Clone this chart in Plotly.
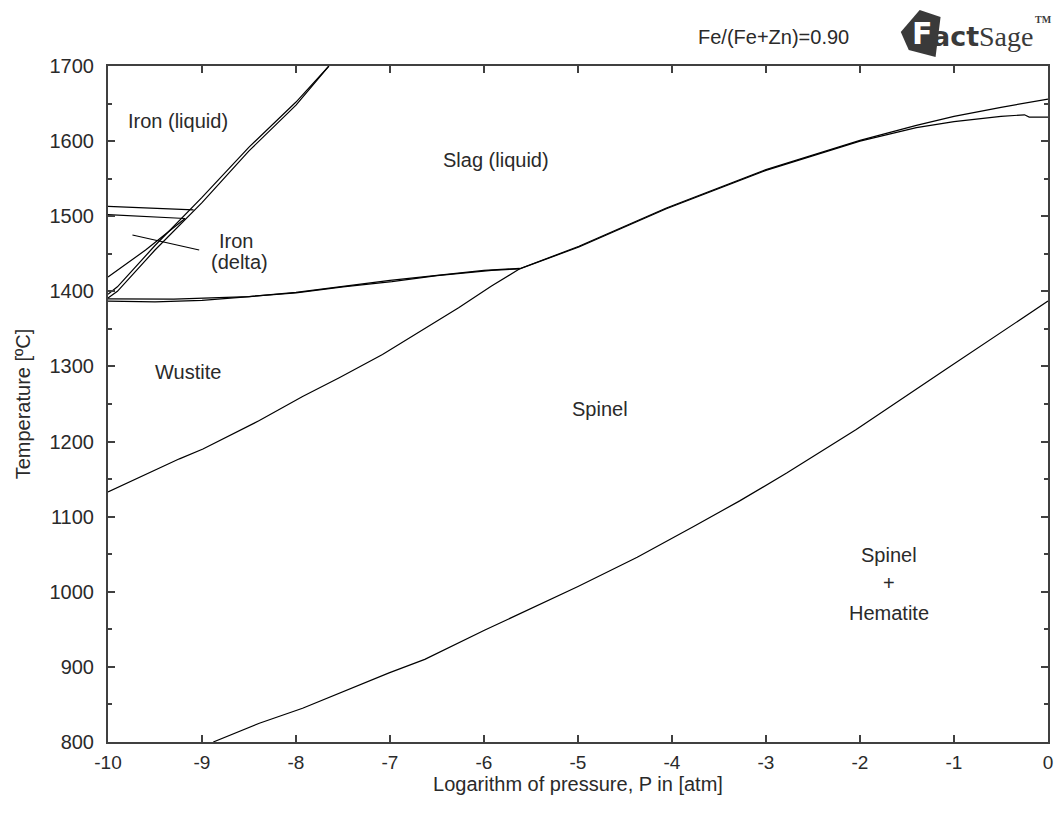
import plotly.graph_objects as go

# ---------------- data (log10 P [atm], T [C]) ----------------
# Spinel / Spinel+Hematite boundary
sh_x = [-8.88, -8.39, -7.93, -7.01, -6.63, -5.99, -5.0, -4.37, -3.77, -3.28, -2.78, -2.04, -1.09, 0.0]
sh_t = [800, 825, 845, 892, 910, 949, 1007, 1046, 1087, 1121, 1158, 1216, 1296, 1387]

# Wustite/Spinel boundary continuing as Slag/Spinel (upper branch)
ws_x = [-10.0, -9.24, -8.99, -8.39, -7.93, -7.54, -7.08, -6.70, -6.27, -5.92, -5.62, -4.99, -4.06, -3.0, -2.0, -1.4, -1.0, -0.5, 0.0]
ws_t = [1133, 1177, 1190, 1228, 1260, 1285, 1316, 1345, 1378, 1407, 1430, 1460, 1511, 1562, 1601, 1621, 1633, 1645, 1656]

# Wustite/Slag boundary continuing as Slag/Spinel (lower branch)
wl_x = [-10.0, -9.5, -9.0, -8.39, -8.0, -7.5, -6.98, -6.5, -5.92, -5.62, -4.99, -4.06, -3.0, -2.0, -1.4, -1.0, -0.5, -0.25, -0.2, 0.0]
wl_t = [1387, 1386, 1388, 1394, 1398, 1406, 1413, 1421, 1428, 1430, 1459, 1510, 1561, 1600, 1618, 1626, 1633, 1635, 1632, 1632]

# second Wustite/Slag line (double line)
wl2_x = [-10.0, -9.3, -8.5, -8.0, -7.0, -6.0, -5.62]
wl2_t = [1390, 1389.5, 1393, 1398.5, 1414.5, 1428, 1430.5]

# Iron (liquid) boundaries
l1_x = [-10.0, -9.9, -9.5, -9.0, -8.5, -8.0, -7.65]
l1_t = [1396, 1406, 1461, 1525, 1592, 1652, 1700]
l2_x = [-10.0, -9.9, -9.5, -9.0, -8.5, -8.0, -7.65]
l2_t = [1391, 1400, 1455, 1518, 1587, 1648, 1700]

# Iron (delta) boundaries
h1_x = [-10.0, -9.09]
h1_t = [1513, 1508.5]
h2_x = [-10.0, -9.18]
h2_t = [1502, 1497]
d1_x = [-10.0, -9.6, -9.18]
d1_t = [1419, 1455, 1497]

# label pointer for "Iron (delta)"
ptr_x = [-9.74, -9.03]
ptr_t = [1475, 1455]

x_tick_vals = [-10, -9, -8, -7, -6, -5, -4, -3, -2, -1, 0]
x_tick_text = ["-10", "-9", "-8", "-7", "-6", "-5", "-4", "-3", "-2", "-1", "0"]
y_tick_vals = [800, 900, 1000, 1100, 1200, 1300, 1400, 1500, 1600, 1700]
y_tick_text = ["800", "900", "1000", "1100", "1200", "1300", "1400", "1500", "1600", "1700"]

# ---------------- figure ----------------
W, H = 1059, 814
ML, MR, MT, MB = 108, 6, 66, 72
FONT = "Liberation Sans, Arial, sans-serif"
TXT = "#2a2a2a"
AX = "#404040"

fig = go.Figure()
line_style = dict(color="black", width=1.2)
for xs, ts in [(sh_x, sh_t), (ws_x, ws_t), (wl_x, wl_t), (wl2_x, wl2_t),
               (l1_x, l1_t), (l2_x, l2_t), (h1_x, h1_t), (h2_x, h2_t),
               (d1_x, d1_t), (ptr_x, ptr_t)]:
    fig.add_trace(go.Scatter(x=xs, y=ts, mode="lines", line=line_style,
                             showlegend=False, hoverinfo="skip"))


def px2paper(px, py):
    return (px - ML) / (W - ML - MR), (H - MB - py) / (H - MT - MB)


annotations = []
def data_label(text, x, y, size=20):
    annotations.append(dict(x=x, y=y, xref="x", yref="y", text=text, showarrow=False,
                            font=dict(family=FONT, size=size, color=TXT),
                            xanchor="center", yanchor="middle", align="center"))

data_label("Iron (liquid)", -9.26, 1627)
data_label("Slag (liquid)", -5.87, 1575)
data_label("Iron", -8.64, 1467)
data_label("(delta)", -8.6, 1439)
data_label("Wustite", -9.15, 1293)
data_label("Spinel", -4.77, 1243)
data_label("Spinel", -1.69, 1049)
data_label("+", -1.69, 1012)
data_label("Hematite", -1.69, 972)

# header text
tx, ty = px2paper(777, 37)
annotations.append(dict(x=tx, y=ty, xref="paper", yref="paper", text="Fe/(Fe+Zn)=0.90",
                        showarrow=False, font=dict(family=FONT, size=20, color=TXT),
                        xanchor="center", yanchor="middle"))

# FactSage logo (text-based)
shapes = []
pts = [(905, 32), (924, 10), (945, 17), (940, 57), (913, 50)]
path = ""
for i, (px, py) in enumerate(pts):
    qx, qy = px2paper(px, py)
    path += ("M" if i == 0 else "L") + f"{qx:.5f},{qy:.5f} "
path += "Z"
shapes.append(dict(type="path", path=path, xref="paper", yref="paper",
                   fillcolor="#3a3a3a", line=dict(width=0), layer="above"))
fx, fy = px2paper(927, 34)
annotations.append(dict(x=fx, y=fy, xref="paper", yref="paper", text="<b>F</b>", showarrow=False,
                        font=dict(family="DejaVu Sans", size=30, color="white"),
                        xanchor="center", yanchor="middle"))
ax_, ay_ = px2paper(934, 37)
annotations.append(dict(x=ax_, y=ay_, xref="paper", yref="paper", text="<b>act</b>", showarrow=False,
                        font=dict(family="DejaVu Sans", size=27, color="#3a3a3a"),
                        xanchor="left", yanchor="middle"))
sx, sy = px2paper(982, 36)
annotations.append(dict(x=sx, y=sy, xref="paper", yref="paper", text="Sage", showarrow=False,
                        font=dict(family="Liberation Serif", size=28, color="#3a3a3a"),
                        xanchor="left", yanchor="middle"))
mx, my = px2paper(1038, 20)
annotations.append(dict(x=mx, y=my, xref="paper", yref="paper", text="<b>TM</b>", showarrow=False,
                        font=dict(family="Liberation Serif", size=10, color="#3a3a3a"),
                        xanchor="left", yanchor="middle"))

fig.update_layout(
    width=W, height=H,
    margin=dict(l=ML, r=MR, t=MT, b=MB),
    paper_bgcolor="white", plot_bgcolor="white",
    annotations=annotations, shapes=shapes,
    showlegend=False,
    xaxis=dict(
        range=[-10, 0], tickmode="array", tickvals=x_tick_vals, ticktext=x_tick_text,
        ticks="inside", ticklen=7, tickwidth=1.5, tickcolor=AX,
        showline=True, linewidth=2, linecolor=AX, mirror="allticks",
        showgrid=False, zeroline=False,
        tickfont=dict(family=FONT, size=19, color=TXT), ticklabelstandoff=2,
        title=dict(text="Logarithm of pressure, P in [atm]", standoff=4,
                   font=dict(family=FONT, size=20, color=TXT)),
    ),
    yaxis=dict(
        range=[800, 1700], tickmode="array", tickvals=y_tick_vals, ticktext=y_tick_text,
        ticks="inside", ticklen=7, tickwidth=1.5, tickcolor=AX,
        minor=dict(dtick=50, tick0=0, ticks="inside", ticklen=4, tickwidth=1.5, tickcolor=AX, showgrid=False),
        showline=True, linewidth=2, linecolor=AX, mirror="allticks",
        showgrid=False, zeroline=False,
        tickfont=dict(family=FONT, size=20, color=TXT), ticklabelstandoff=8,
        title=dict(text="Temperature [ºC]", standoff=14,
                   font=dict(family=FONT, size=20, color=TXT)),
    ),
)

fig.write_html("out.html", config={"displayModeBar": False},
               post_script="document.body.style.margin='0px';document.body.style.overflow='hidden';")
